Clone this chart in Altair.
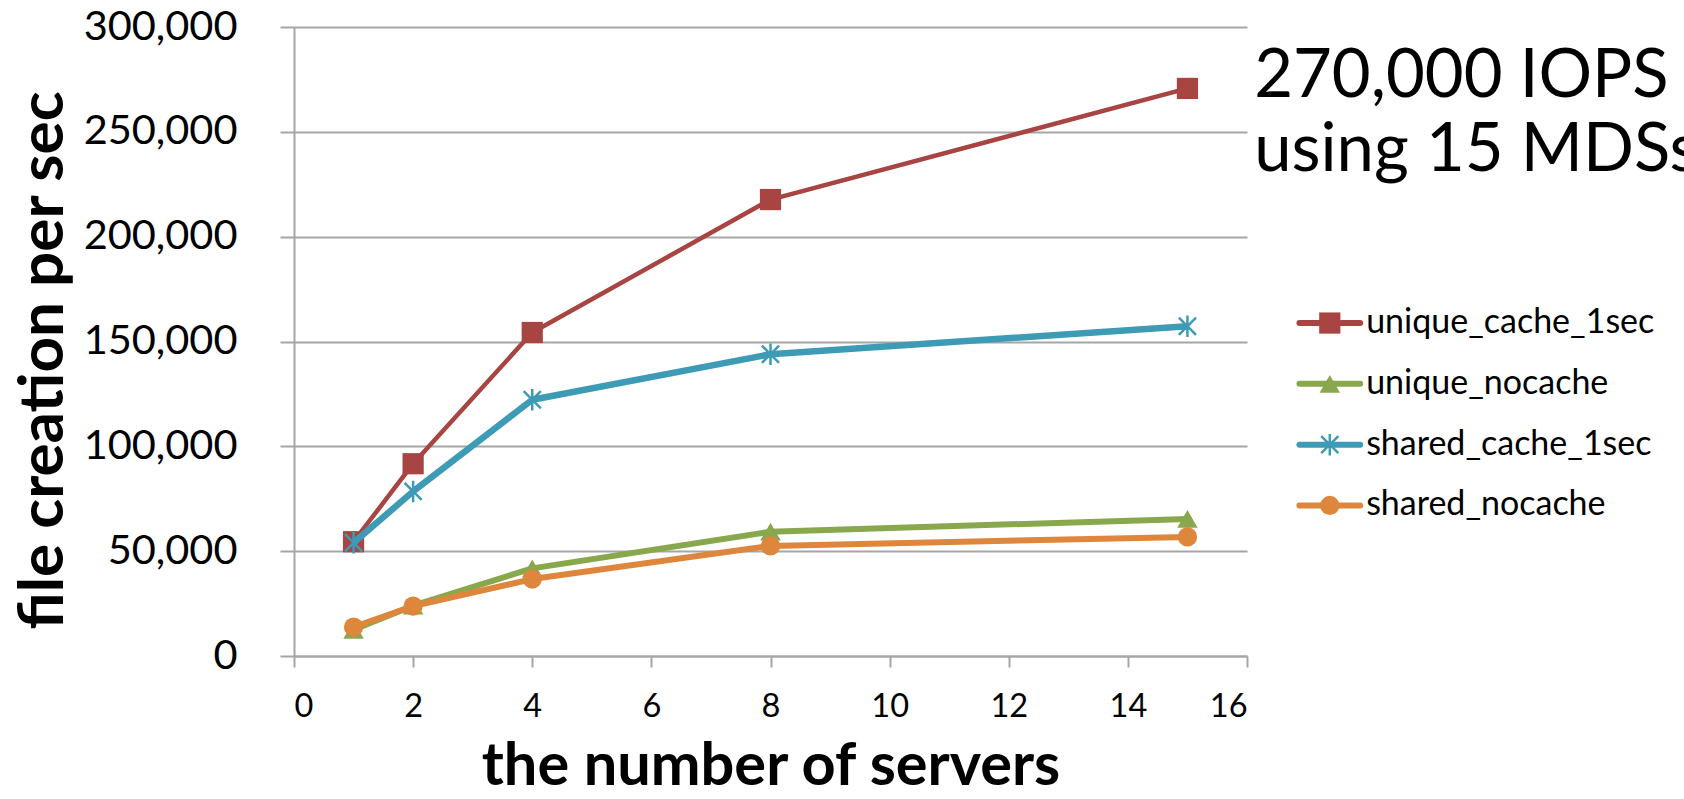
import altair as alt
import pandas as pd

# ---------------- data ----------------
servers = [1, 2, 4, 8, 15]
series_names = ["unique_cache_1sec", "unique_nocache", "shared_cache_1sec", "shared_nocache"]
unique_cache_1sec = [54500, 91700, 154300, 217700, 270700]
unique_nocache = [12500, 24000, 41800, 59300, 65400]
shared_cache_1sec = [54000, 78500, 122200, 143900, 157300]
shared_nocache = [13800, 23800, 36700, 52500, 56800]
series_values = [unique_cache_1sec, unique_nocache, shared_cache_1sec, shared_nocache]

x_ticks = [0, 2, 4, 6, 8, 10, 12, 14, 16]
y_ticks = [0, 50000, 100000, 150000, 200000, 250000, 300000]
annotation_lines = ["270,000 IOPS", "using 15 MDSs"]

x_title = "the number of servers"
y_title = "file creation per sec"

# ---------------- styles ----------------
colors = ["#A84442", "#89A84D", "#3E9BB5", "#DE863B"]
line_widths = [4.5, 6, 6.5, 6]
ASTERISK = "M0,-1L0,1M-0.8,-0.8L0.8,0.8M-0.8,0.8L0.8,-0.8"
shapes = ["square", "triangle-up", ASTERISK, "circle"]
filled = [True, True, False, True]
sizes = [450, 420, 460, 370]
FONT = "Lato"
GRID = "#A6A6A6"

W, H = 953, 629
X_DOM = [0, 16]
Y_DOM = [0, 300000]

# legend / annotation placement (in data units of the chart's scales)
leg_x0, leg_x1, leg_xt = 16.88, 17.9, 18.0
leg_top, leg_step = 158800, 29000
ann_x = 16.12
ann_y = [266600, 231500]

x_axis = alt.Axis(
    values=x_ticks, title=x_title, grid=False,
    labelFont=FONT, labelFontSize=32.5, labelColor="#000000", labelPadding=23,
    tickSize=11, tickColor=GRID, tickWidth=2,
    domainColor=GRID, domainWidth=2,
    titleFont=FONT, titleFontSize=59.5, titleFontWeight="bold", titleColor="#000000",
    titleX=W / 2, titleY=128, titleBaseline="alphabetic", titleAlign="center",
)
y_axis = alt.Axis(
    values=y_ticks, format=",d", title=y_title, grid=True,
    gridColor=GRID, gridWidth=2,
    labelFont=FONT, labelFontSize=41.5, labelColor="#000000", labelPadding=43,
    tickSize=14, tickColor=GRID, tickWidth=2,
    domainColor=GRID, domainWidth=2,
    titleFont=FONT, titleFontSize=62, titleFontWeight="bold", titleColor="#000000",
    titleX=-232, titleY=333, titleAngle=270, titleBaseline="alphabetic", titleAlign="center",
)


def X(field):
    return alt.X(f"{field}:Q", scale=alt.Scale(domain=X_DOM), axis=x_axis)


def Y(field):
    return alt.Y(f"{field}:Q", scale=alt.Scale(domain=Y_DOM), axis=y_axis)


def marker(base, i):
    if filled[i]:
        return base.mark_point(shape=shapes[i], filled=True, color=colors[i], size=sizes[i], opacity=1)
    return base.mark_point(shape=shapes[i], filled=False, color=colors[i], size=sizes[i],
                           strokeWidth=2.5, opacity=1)


layers = []
for i, name in enumerate(series_names):
    df = pd.DataFrame({"servers": servers, "value": series_values[i], "series": name})
    base = alt.Chart(df)
    layers.append(
        base.mark_line(color=colors[i], strokeWidth=line_widths[i], strokeJoin="round")
        .encode(x=X("servers"), y=Y("value"))
    )
    layers.append(marker(base, i).encode(x=X("servers"), y=Y("value")))

# custom legend (line + marker + label), positioned through the chart scales
for i, name in enumerate(series_names):
    ly = leg_top - i * leg_step
    ldf = pd.DataFrame({"x0": [leg_x0], "x1": [leg_x1], "xm": [(leg_x0 + leg_x1) / 2],
                        "xt": [leg_xt], "ly": [ly], "name": [name]})
    lb = alt.Chart(ldf)
    layers.append(
        lb.mark_rule(color=colors[i], strokeWidth=6, strokeCap="round")
        .encode(x=X("x0"), x2="x1", y=Y("ly"))
    )
    layers.append(marker(lb, i).encode(x=X("xm"), y=Y("ly")))
    layers.append(
        lb.mark_text(align="left", baseline="middle", font=FONT, fontSize=34, color="#000000")
        .encode(x=X("xt"), y=Y("ly"), text="name:N")
    )

# annotation
adf = pd.DataFrame({"ax": [ann_x, ann_x], "ay": ann_y, "txt": annotation_lines})
layers.append(
    alt.Chart(adf).mark_text(align="left", baseline="alphabetic", font=FONT, fontSize=67, color="#000000")
    .encode(x=X("ax"), y=Y("ay"), text="txt:N")
)

chart = (
    alt.layer(*layers)
    .properties(
        width=W, height=H,
        autosize=alt.AutoSizeParams(type="none"),
        padding={"left": 294, "top": 27, "right": 1684 - 294 - W, "bottom": 799 - 27 - H},
        background="#FFFFFF",
    )
    .configure_view(stroke=None)
)

chart.save("out.html", embed_options={"renderer": "svg", "actions": False})
